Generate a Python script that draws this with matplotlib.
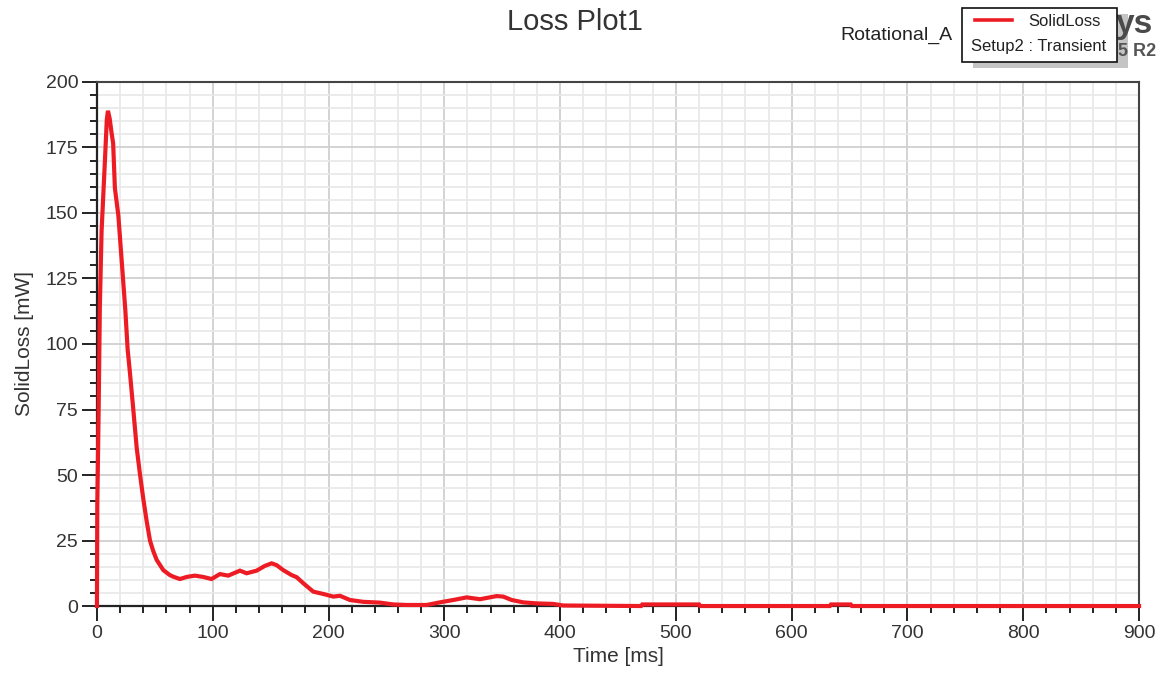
import matplotlib.pyplot as plt
import matplotlib.patches as mpatches
from matplotlib.lines import Line2D
from matplotlib.ticker import MultipleLocator

plt.rcParams['font.family'] = ['Liberation Sans', 'DejaVu Sans']

# SolidLoss vs time, values
time_ms = [0, 0.3, 1.5, 2.5, 4, 5.5, 7, 8.5, 9.5, 11, 12.5, 14, 15.5, 18.5, 21.5,
           24.5, 26.5, 28.5, 31.4, 34.3, 37.1, 40, 42.9, 45.8, 48.6, 51.6, 57.3,
           63, 65.9, 71.7, 77.5, 84.6, 91.8, 99, 106.2, 113.4, 123.5, 129.3,
           137.9, 145, 150.9, 155.2, 160.9, 168.2, 172.5, 178.2, 186.8, 195.5,
           204.1, 209.9, 218.5, 230, 244.4, 255.9, 267.5, 284.8, 296.2, 307.7,
           319.3, 330.8, 345.2, 350.9, 358.2, 368.2, 379.8, 394.1, 402.8, 470,
           471, 520, 521, 633, 634, 651, 652, 900]
solid_loss = [0, 38, 76, 114, 143, 157, 171, 185.5, 189, 186, 181, 176.5, 159.5,
              149, 131, 113, 98, 89, 75, 60.5, 50.5, 41, 32.5, 25, 21, 17.6, 13.7,
              11.8, 11.2, 10.3, 11.1, 11.6, 11.1, 10.3, 12.2, 11.6, 13.5, 12.5,
              13.5, 15.3, 16.3, 15.6, 13.7, 11.8, 11, 8.7, 5.5, 4.6, 3.6, 3.9,
              2.3, 1.6, 1.3, 0.6, 0.4, 0.4, 1.4, 2.3, 3.3, 2.6, 3.8, 3.6, 2.3,
              1.4, 1.0, 0.8, 0.2, 0, 0.6, 0.6, 0, 0, 0.6, 0.6, 0, 0]

fig = plt.figure(figsize=(11.68, 6.83), dpi=100)
ax = fig.add_axes([0.083, 0.1127, 0.8922, 0.7673])

ax.plot(time_ms, solid_loss, color='#ed1c24', lw=3.0, zorder=5, clip_on=False,
        solid_joinstyle='miter')

ax.set_xlim(0, 900)
ax.set_ylim(0, 200)
ax.xaxis.set_major_locator(MultipleLocator(100))
ax.xaxis.set_minor_locator(MultipleLocator(20))
ax.yaxis.set_major_locator(MultipleLocator(25))
ax.yaxis.set_minor_locator(MultipleLocator(5))

ax.grid(which='major', color='#d0d0d0', lw=1.3)
ax.grid(which='minor', color='#e9e9e9', lw=1.3)
ax.set_axisbelow(True)

ax.tick_params(which='major', direction='out', length=10.5, width=1.4,
               color='#222222', labelsize=14, labelcolor='#333333', pad=3)
ax.tick_params(which='minor', direction='out', length=5, width=1.4,
               color='#222222')

for side in ['left', 'bottom']:
    ax.spines[side].set_color('#222222')
    ax.spines[side].set_linewidth(1.6)
for side in ['top', 'right']:
    ax.spines[side].set_color('#444444')
    ax.spines[side].set_linewidth(1.5)

ax.set_xlabel('Time [ms]', fontsize=15, color='#333333', labelpad=4)
ax.set_ylabel('SolidLoss [mW]', fontsize=15, color='#333333', labelpad=8)

fig.text(0.492, 0.968, 'Loss Plot1', fontsize=21, color='#333333',
         ha='center', va='center')

# project name and ansys stamp, the legend sits over the middle of them
W, H = 1168, 683
fig.text(840 / W, 1 - 35 / H, 'Rotational_A', fontsize=14, color='#222222',
         ha='left', va='center')
fig.text(1153 / W, 1 - 25 / H, 'ys', fontsize=24, fontweight='bold',
         color='#4a4a4a', ha='right', va='center', zorder=10.5)
fig.text(1156 / W, 1 - 52 / H, '5 R2', fontsize=13, fontweight='bold',
         color='#555555', ha='right', va='center', zorder=10.5)

# legend box with drop shadow
shadow = mpatches.Rectangle((973 / W, 1 - 68 / H), 155 / W, 54 / H,
                            transform=fig.transFigure, facecolor='#c4c4c4',
                            edgecolor='none', zorder=10)
box = mpatches.Rectangle((962 / W, 1 - 62 / H), 155 / W, 54 / H,
                         transform=fig.transFigure, facecolor='white',
                         edgecolor='#111111', lw=1.2, zorder=11)
fig.patches.extend([shadow, box])
fig.lines.append(Line2D([975 / W, 1012 / W], [1 - 20 / H, 1 - 20 / H],
                        transform=fig.transFigure, color='#ed1c24', lw=2.6,
                        zorder=12))
fig.text(1064 / W, 1 - 22 / H, 'SolidLoss', fontsize=12, color='#222222',
         ha='center', va='center', zorder=12)
fig.text(1039 / W, 1 - 46 / H, 'Setup2 : Transient', fontsize=12,
         color='#222222', ha='center', va='center', zorder=12)

plt.savefig('out.png', dpi=100)
